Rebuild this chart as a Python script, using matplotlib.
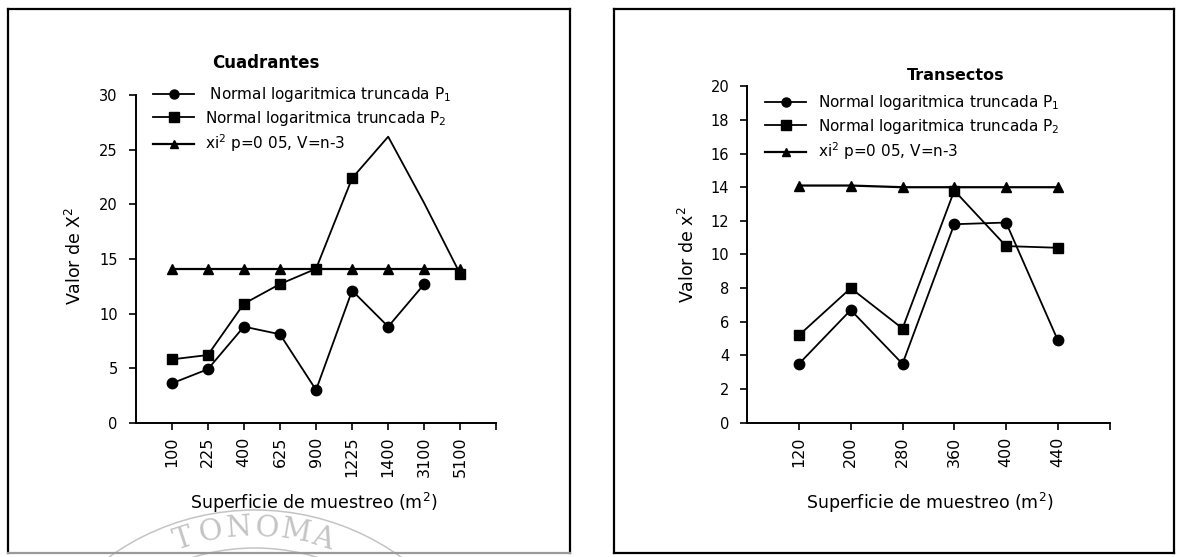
import numpy as np
import matplotlib
matplotlib.use("Agg")
import matplotlib.pyplot as plt
from matplotlib.lines import Line2D
from matplotlib.patches import Arc

# ---- data ----
cuad_x = ["100", "225", "400", "625", "900", "1225", "1400", "3100", "5100"]
cuad_p1 = [3.6, 4.9, 8.8, 8.1, 3.0, 12.1, 8.8, 12.7, np.nan]
cuad_p2 = [5.8, 6.2, 10.9, 12.7, 14.1, 22.4, 26.2, 20.1, 13.6]
cuad_chi = [14.1, 14.1, 14.1, 14.1, 14.1, 14.1, 14.1, 14.1, 14.1]
cuad_p2_marks = [0, 1, 2, 3, 4, 5, 8]   # no visible markers at 1400 and 3100

tran_x = ["120", "200", "280", "360", "400", "440"]
tran_p1 = [3.5, 6.7, 3.5, 11.8, 11.9, 4.9]
tran_p2 = [5.2, 8.0, 5.6, 13.8, 10.5, 10.4]
tran_chi = [14.1, 14.1, 14.0, 14.0, 14.0, 14.0]

labels_cuad = [" Normal logaritmica truncada P$_1$",
               "Normal logaritmica truncada P$_2$",
               "xi$^2$ p=0 05, V=n-3"]
labels_tran = ["Normal logaritmica truncada P$_1$",
               "Normal logaritmica truncada P$_2$",
               "xi$^2$ p=0 05, V=n-3"]

W, H = 1177, 557
plt.rcParams["font.family"] = "DejaVu Sans"
fig = plt.figure(figsize=(W / 100, H / 100), dpi=100)


def fx(x):
    return x / W


def fy(y):
    return 1 - y / H


def draw_panel(ax, cats, p1, p2, chi, ymax, ystep, p2_marks):
    pos = np.arange(1, len(cats) + 1)
    ax.plot(pos, chi, color="black", lw=1.6, marker="^", ms=6.5, zorder=3)
    ax.plot(pos, p2, color="black", lw=1.3, marker="s", ms=7,
            markevery=p2_marks, zorder=4)
    ax.plot(pos, p1, color="black", lw=1.3, marker="o", ms=7.5, zorder=5)
    ax.set_xlim(0, len(cats) + 1)
    ax.set_ylim(0, ymax)
    ax.set_xticks(pos)
    ax.set_xticklabels(cats, rotation=90, fontsize=11.5)
    ax.set_xticks([len(cats) + 1], minor=True)
    ax.set_yticks(np.arange(0, ymax + 1, ystep))
    ax.tick_params(axis="y", labelsize=10.5, length=5, width=1.2, pad=8)
    ax.tick_params(axis="x", which="both", length=5, width=1.2, pad=5)
    for s in ["top", "right"]:
        ax.spines[s].set_visible(False)
    for s in ["left", "bottom"]:
        ax.spines[s].set_linewidth(1.4)


def add_legend(x, y, labels, first_pad):
    handles = [
        Line2D([], [], color="black", lw=1.3, marker="o", ms=6.5),
        Line2D([], [], color="black", lw=1.3, marker="s", ms=6.5),
        Line2D([], [], color="black", lw=1.6, marker="^", ms=6),
    ]
    fig.legend(handles, labels, loc="upper left",
               bbox_to_anchor=(fx(x), fy(y)), frameon=False, fontsize=11,
               borderpad=0, borderaxespad=0, handlelength=2.7,
               handletextpad=first_pad, labelspacing=0.3)


# left panel: Cuadrantes
ax1 = fig.add_axes([fx(135.7), fy(422.7), fx(496.4 - 135.7), (422.7 - 95.2) / H])
draw_panel(ax1, cuad_x, cuad_p1, cuad_p2, cuad_chi, 30, 5, cuad_p2_marks)
fig.text(fx(266), fy(63), "Cuadrantes", ha="center", va="center",
         fontsize=12, fontweight="bold")
fig.text(fx(75), fy(256), "Valor de X$^2$", rotation=90, ha="center",
         va="center", fontsize=12.5)
fig.text(fx(314), fy(503), "Superficie de muestreo (m$^2$)", ha="center",
         va="center", fontsize=12.5)
add_legend(153, 85, labels_cuad, 0.7)

# right panel: Transectos
ax2 = fig.add_axes([fx(747.2), fy(422.7), fx(1109.6 - 747.2), (422.7 - 86.3) / H])
draw_panel(ax2, tran_x, tran_p1, tran_p2, tran_chi, 20, 2, None)
fig.text(fx(956), fy(76), "Transectos", ha="center", va="center",
         fontsize=11.5, fontweight="bold")
fig.text(fx(688), fy(255), "Valor de x$^2$", rotation=90, ha="center",
         va="center", fontsize=12.5)
fig.text(fx(930), fy(503), "Superficie de muestreo (m$^2$)", ha="center",
         va="center", fontsize=12.5)
add_legend(765, 93, labels_tran, 0.75)

# panel frames
for x0, x1, bottom_col in [(8, 570, "#9a9a9a"), (614, 1174, "black")]:
    fig.add_artist(Line2D([fx(x0), fx(x1)], [fy(9), fy(9)], color="black", lw=1.6))
    fig.add_artist(Line2D([fx(x0), fx(x0)], [fy(9), fy(553)], color="black", lw=1.6))
    fig.add_artist(Line2D([fx(x1), fx(x1)], [fy(9), fy(553)], color="black", lw=1.6))
    fig.add_artist(Line2D([fx(x0), fx(x1)], [fy(553), fy(553)], color=bottom_col, lw=1.6))

# faint university seal watermark at the bottom of the left panel
wm = "#c4c4c4"
cx, cy = 255, 760
for r in (250, 212):
    fig.add_artist(Arc((fx(cx), fy(cy)), 2 * r / W, 2 * r / H, theta1=58, theta2=122,
                       transform=fig.transFigure, color=wm, lw=1.1))
for i, ch in enumerate("TONOMA"):
    th = np.radians(-18 + 7.0 * i)
    px = cx + 232 * np.sin(th)
    py = cy - 232 * np.cos(th)
    fig.text(fx(px), fy(py), ch, ha="center", va="center", rotation=-np.degrees(th),
             fontsize=21, family="DejaVu Serif", color=wm, zorder=0)

fig.savefig("out.png", dpi=100)
